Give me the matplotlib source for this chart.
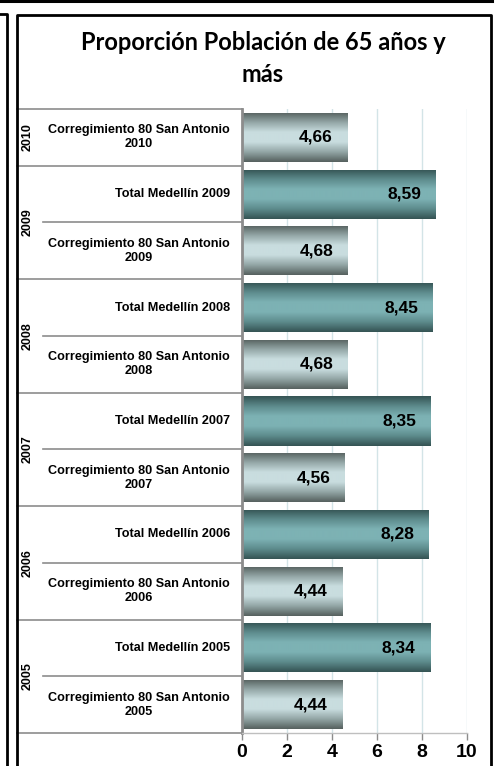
import numpy as np
import matplotlib.pyplot as plt
from matplotlib.colors import LinearSegmentedColormap
from matplotlib.lines import Line2D

# Datos (de abajo hacia arriba)
etiquetas = [
    "Corregimiento 80 San Antonio\n2005", "Total Medellín 2005",
    "Corregimiento 80 San Antonio\n2006", "Total Medellín 2006",
    "Corregimiento 80 San Antonio\n2007", "Total Medellín 2007",
    "Corregimiento 80 San Antonio\n2008", "Total Medellín 2008",
    "Corregimiento 80 San Antonio\n2009", "Total Medellín 2009",
    "Corregimiento 80 San Antonio\n2010",
]
valores = [4.44, 8.34, 4.44, 8.28, 4.56, 8.35, 4.68, 8.45, 4.68, 8.59, 4.66]
es_total = [False, True, False, True, False, True, False, True, False, True, False]
anios = ["2005", "2006", "2007", "2008", "2009", "2010"]
filas_por_anio = [2, 2, 2, 2, 2, 1]
ticks_x = [0, 2, 4, 6, 8, 10]

W, H = 497, 766
fig = plt.figure(figsize=(W / 100, H / 100), dpi=100)

# marcos de la imagen original
def linea_fig(xs, ys, lw=2.0, color="black"):
    fig.add_artist(Line2D([x / W for x in xs], [1 - y / H for y in ys],
                          lw=lw, color=color, transform=fig.transFigure))

linea_fig([0, 492], [1, 1], lw=2.2)
linea_fig([492, 492], [1, -2], lw=2.0)
linea_fig([0, 6.5, 6.5], [14, 14, H + 5], lw=2.0)
linea_fig([17, 17, 491, 491], [H + 5, 14.5, 14.5, H + 5], lw=2.0)

# titulo
fig.text(263 / W, 1 - 42 / H, "Proporción Población de 65 años y", ha="center", va="center",
         fontsize=17, fontweight="bold", family="Lato")
fig.text(263 / W, 1 - 75 / H, "más", ha="center", va="center",
         fontsize=17, fontweight="bold", family="Lato")

ax = fig.add_axes([241.5 / W, 33 / H, 225.5 / W, 624 / H])
y = np.arange(len(valores))
alto = 0.865

cmap_gris = LinearSegmentedColormap.from_list("gris", ["#56615f", "#93a6a6", "#c9dddf", "#c9dddf", "#93a6a6", "#56615f"])
cmap_teal = LinearSegmentedColormap.from_list("teal", ["#355454", "#5d8b8c", "#7db2b4", "#7db2b4", "#5d8b8c", "#355454"])
grad = np.linspace(0, 1, 100).reshape(-1, 1)

barras = ax.barh(y, valores, height=alto, color="none", zorder=2)
for b, v, tot in zip(barras, valores, es_total):
    x0, y0 = b.get_x(), b.get_y()
    im = ax.imshow(grad, cmap=cmap_teal if tot else cmap_gris, aspect="auto",
                   extent=[x0, x0 + b.get_width(), y0, y0 + b.get_height()],
                   origin="lower", zorder=2, interpolation="bicubic")
    im.set_clip_path(b)
    ax.annotate(f"{v:.2f}".replace(".", ","), (v, b.get_y() + b.get_height() / 2),
                xytext=(-10, 0), textcoords="offset points", ha="right", va="center",
                fontsize=12.5, fontweight="bold", family="Liberation Sans", zorder=3)

ax.set_xlim(0, 10)
ax.set_ylim(-0.5, len(valores) - 0.5)
ax.set_xticks(ticks_x)
ax.set_xticklabels([str(t) for t in ticks_x], fontsize=14, fontweight="bold", family="Liberation Sans")
ax.tick_params(axis="x", length=5, color="#8c8c8c", pad=3, width=1)
ax.set_yticks([])
ax.grid(axis="x", color="#d3e4e7", lw=1, zorder=0)
ax.set_axisbelow(True)
for s in ["top", "right"]:
    ax.spines[s].set_visible(False)
ax.spines["left"].set_color("#8c8c8c")
ax.spines["left"].set_linewidth(2)
ax.spines["bottom"].set_color("#bfbfbf")
ax.spines["bottom"].set_linewidth(1)

# zona de etiquetas (categorias de dos niveles)
tr = ax.get_yaxis_transform()
x_izq = (17 - 241.5) / 225.5
x_int = (43 - 241.5) / 225.5
x_anio = (28 - 241.5) / 225.5
x_txt = (230 - 241.5) / 225.5

for i, et in enumerate(etiquetas):
    ax.text(x_txt, i, et, transform=tr, ha="right", va="center", multialignment="center",
            fontsize=9.1, fontweight="bold", family="Liberation Sans", linespacing=1.2)

inicio = 0
limites_grupo = [-0.5]
for anio, n in zip(anios, filas_por_anio):
    centro = inicio + (n - 1) / 2
    ax.text(x_anio, centro, anio, transform=tr, rotation=90, ha="center", va="center",
            fontsize=9, fontweight="bold", family="Liberation Sans")
    for k in range(1, n):
        ax.plot([x_int, 0], [inicio + k - 0.5] * 2, transform=tr, color="#8c8c8c", lw=1.2, clip_on=False)
    inicio += n
    limites_grupo.append(inicio - 0.5)

for yl in limites_grupo:
    ax.plot([x_izq, 0], [yl, yl], transform=tr, color="#8c8c8c", lw=1.2, clip_on=False)

fig.savefig("out.png", dpi=100)
